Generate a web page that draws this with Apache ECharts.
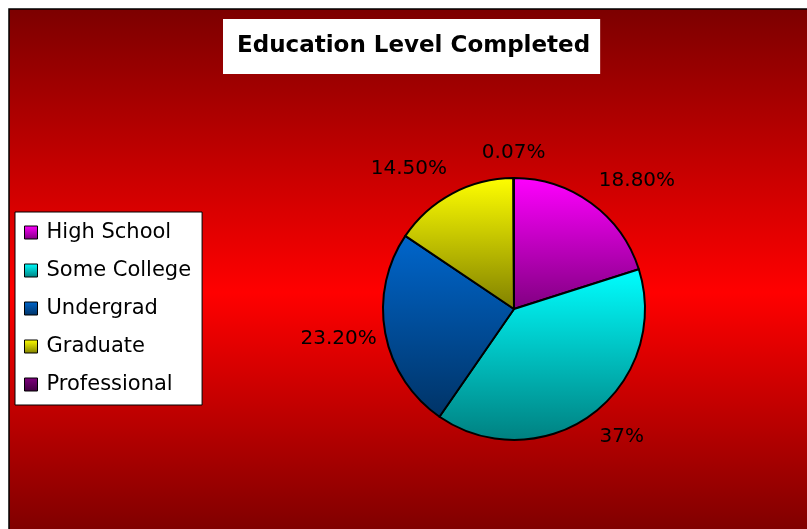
<!DOCTYPE html>
<html>
<head>
<meta charset="utf-8">
<script src="https://cdn.jsdelivr.net/npm/echarts@6/dist/echarts.min.js"></script>
<style>
html,body{margin:0;padding:0;background:#fff;}
#chart{width:807px;height:529px;}
</style>
</head>
<body>
<div id="chart"></div>
<script>
const categories = ['High School', 'Some College', 'Undergrad', 'Graduate', 'Professional'];
const values = [18.8, 37, 23.2, 14.5, 0.07];
const labelTexts = ['18.80%', '37%', '23.20%', '14.50%', '0.07%'];
const titleText = 'Education Level Completed';

const palette = [
  ['#FF00FF', '#800080'],
  ['#00FFFF', '#008080'],
  ['#0066CC', '#003366'],
  ['#FFFF00', '#808000'],
  ['#800080', '#400040']
];

function vgrad(top, bottom) {
  return new echarts.graphic.LinearGradient(0, 0, 0, 1, [
    { offset: 0, color: top },
    { offset: 1, color: bottom }
  ]);
}

const chart = echarts.init(document.getElementById('chart'), null, { renderer: 'canvas' });

chart.setOption({
  animation: false,
  backgroundColor: '#ffffff',
  graphic: [{
    type: 'rect',
    z: -10,
    silent: true,
    shape: { x: 9, y: 9, width: 820, height: 535 },
    style: {
      fill: new echarts.graphic.LinearGradient(0, 0, 0, 1, [
        { offset: 0, color: '#7C0000' },
        { offset: 0.53, color: '#FF0000' },
        { offset: 1, color: '#780000' }
      ]),
      stroke: '#000000',
      lineWidth: 1.5
    }
  }],
  title: {
    text: titleText,
    left: 223,
    top: 19,
    backgroundColor: '#ffffff',
    padding: [16, 10, 16, 14],
    textStyle: {
      fontFamily: 'DejaVu Sans',
      fontWeight: 'bold',
      fontSize: 23,
      lineHeight: 23,
      color: '#000000'
    }
  },
  legend: {
    orient: 'vertical',
    left: 15,
    top: 212,
    backgroundColor: '#ffffff',
    borderColor: '#000000',
    borderWidth: 1,
    padding: [10, 11, 10, 9],
    itemWidth: 13,
    itemHeight: 13,
    itemGap: 17,
    icon: 'rect',
    selectedMode: false,
    itemStyle: { borderColor: '#000000', borderWidth: 1 },
    textStyle: {
      fontFamily: 'DejaVu Sans',
      fontSize: 21,
      lineHeight: 21,
      color: '#000000',
      padding: [0, 0, 0, 4]
    },
    data: categories
  },
  series: [{
    type: 'pie',
    center: [514, 309],
    radius: 131,
    startAngle: 90,
    clockwise: true,
    avoidLabelOverlap: false,
    silent: true,
    itemStyle: { borderColor: '#000000', borderWidth: 2 },
    label: {
      show: true,
      position: 'outside',
      fontFamily: 'DejaVu Sans',
      fontSize: 20,
      color: '#000000',
      formatter: p => labelTexts[p.dataIndex]
    },
    labelLine: { show: false, length: 28, length2: 0 },
    labelLayout: p => {
      if (p.dataIndex === 4) return { dx: p.labelRect.width / 2 + 5, dy: 3 };
      if (p.dataIndex === 2) return { dx: 24 };
      return { dx: p.align === 'left' ? -14 : 13 };
    },
    emphasis: { disabled: true },
    data: categories.map((c, i) => ({
      name: c,
      value: values[i],
      itemStyle: { color: vgrad(palette[i][0], palette[i][1]) }
    }))
  }]
});
</script>
</body>
</html>
